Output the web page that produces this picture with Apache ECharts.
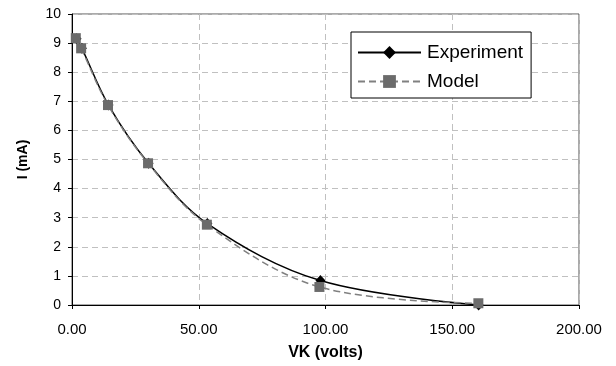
<!DOCTYPE html>
<html>
<head>
<meta charset="utf-8">
<script src="https://cdn.jsdelivr.net/npm/echarts@6/dist/echarts.min.js"></script>
<style>
  html, body { margin: 0; padding: 0; background: #fff; }
  #chart { width: 616px; height: 366px; }
</style>
</head>
<body>
<div id="chart"></div>
<script>
// values
const expVK = [1.8, 3.9, 14.4, 30.2, 53.4, 98.0, 160.4]
const expI = [9.15, 8.82, 6.87, 4.87, 2.80, 0.84, 0.00]
const modelVK = [1.5, 3.6, 14.2, 30.0, 53.2, 97.6, 160.3]
const modelI = [9.17, 8.82, 6.87, 4.87, 2.76, 0.62, 0.06]

const font = 'Liberation Sans, Arial, sans-serif'
const gridDash = { color: '#c0c0c0', type: [6, 4], width: 1 }

const chart = echarts.init(document.getElementById('chart'))
chart.setOption({
    animation: false,
    textStyle: { fontFamily: font, color: '#000' },
    grid: {
        left: 72,
        right: 37,
        top: 14,
        bottom: 60,
        show: true,
        borderColor: '#555',
        borderWidth: 1
    },
    legend: {
        orient: 'vertical',
        left: 351,
        top: 32,
        padding: [11, 8, 7, 6],
        itemGap: 10,
        itemWidth: 63,
        itemHeight: 16,
        backgroundColor: '#fff',
        borderColor: '#000',
        borderWidth: 1,
        borderRadius: 0,
        textStyle: { fontSize: 19, lineHeight: 19, fontFamily: font, color: '#000', padding: [0, 0, 0, 1] },
        data: ['Experiment', 'Model']
    },
    xAxis: {
        type: 'value',
        min: 0,
        max: 200,
        interval: 50,
        name: 'VK (volts)',
        nameLocation: 'middle',
        nameGap: 40,
        nameTextStyle: { fontSize: 16, fontWeight: 'bold', fontFamily: font, color: '#000' },
        axisLine: { show: true, onZero: false, lineStyle: { color: '#000', width: 1 } },
        axisTick: { show: true, length: 4, lineStyle: { color: '#000' } },
        axisLabel: { fontSize: 15, margin: 17, color: '#000', fontFamily: font, formatter: v => v.toFixed(2) },
        splitLine: { show: true, lineStyle: gridDash }
    },
    yAxis: {
        type: 'value',
        min: 0,
        max: 10,
        interval: 1,
        name: 'I (mA)',
        nameLocation: 'middle',
        nameGap: 42,
        nameTextStyle: { fontSize: 14, fontWeight: 'bold', fontFamily: font, color: '#000' },
        axisLine: { show: true, lineStyle: { color: '#000', width: 1 } },
        axisTick: { show: true, length: 4, lineStyle: { color: '#000' } },
        axisLabel: { fontSize: 14, margin: 11, color: '#000', fontFamily: font },
        splitLine: { show: true, lineStyle: gridDash }
    },
    series: [
        {
            name: 'Experiment',
            type: 'line',
            smooth: 0.35,
            data: expVK.map((v, i) => [v, expI[i]]),
            symbol: 'diamond',
            symbolSize: [10, 11],
            showAllSymbol: true,
            lineStyle: { color: '#000', width: 1.5 },
            itemStyle: { color: '#000' },
            z: 2
        },
        {
            name: 'Model',
            type: 'line',
            smooth: 0.35,
            data: modelVK.map((v, i) => [v, modelI[i]]),
            symbol: 'rect',
            symbolSize: 10,
            showAllSymbol: true,
            lineStyle: { color: '#808080', width: 1.5, type: [7, 4] },
            itemStyle: { color: '#6b6b6b' },
            z: 3
        }
    ]
})
</script>
</body>
</html>
